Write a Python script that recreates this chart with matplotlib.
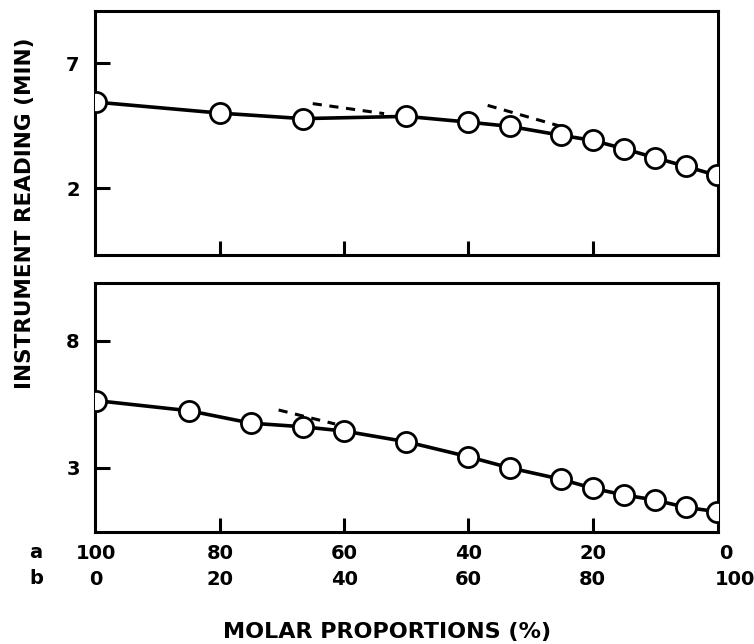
import numpy as np
import matplotlib
matplotlib.use("Agg")
import matplotlib.pyplot as plt

# mole % of component a, and instrument readings (min)
a_top = [100, 80, 66.7, 50, 40, 33.3, 25, 20, 15, 10, 5, 0]
read_top = [5.45, 5.01, 4.79, 4.88, 4.65, 4.48, 4.12, 3.92, 3.59, 3.23, 2.88, 2.52]

a_bottom = [100, 85, 75, 66.7, 60, 50, 40, 33.3, 25, 20, 15, 10, 5, 0]
read_bottom = [5.64, 5.24, 4.75, 4.61, 4.44, 4.02, 3.43, 2.99, 2.54, 2.19, 1.93, 1.73, 1.44, 1.27]

# dashed guide segments (x pairs, y pairs)
dash_top = [([65.1, 53.6], [5.39, 4.99]), ([36.9, 25.1], [5.32, 4.48])]
dash_bottom = [([70.6, 61.5], [5.27, 4.72])]

a_ticks = [100, 80, 60, 40, 20, 0]
b_ticks = [0, 20, 40, 60, 80, 100]
yticks_top = [2, 7]
yticks_bottom = [3, 8]

plt.rcParams['font.family'] = ['DejaVu Sans']
plt.rcParams['font.weight'] = 'bold'

fig = plt.figure(figsize=(7.54, 6.44), dpi=100)
ax1 = fig.add_axes([0.126, 0.604, 0.826, 0.379])
ax2 = fig.add_axes([0.126, 0.174, 0.826, 0.387])


def style_panel(ax, x, y, dashes, yticks, ylim):
    ax.plot(x, y, color="black", lw=2.6, marker="o", ms=14.5,
            mfc="white", mec="black", mew=2.0, zorder=3)
    for dx, dy in dashes:
        ax.plot(dx, dy, color="black", lw=2.2, ls=(0, (3, 2.5)), zorder=2)
    ax.set_xlim(100.2, -0.2)
    ax.set_ylim(*ylim)
    ax.set_xticks([80, 60, 40, 20])
    ax.set_xticklabels([])
    ax.set_yticks(yticks)
    ax.set_yticklabels([str(t) for t in yticks], fontsize=14, fontweight="bold")
    ax.tick_params(direction="in", length=11, width=2.2, pad=11)
    ax.tick_params(axis="x", length=10)
    for s in ax.spines.values():
        s.set_linewidth(2.2)


style_panel(ax1, a_top, read_top, dash_top, yticks_top, (-0.67, 9.1))
style_panel(ax2, a_bottom, read_bottom, dash_bottom, yticks_bottom, (0.47, 10.28))

# two rows of composition labels under the lower panel (b = 100 - a)
xt = ax2.get_xaxis_transform()
for a, b in zip(a_ticks, b_ticks):
    shift = -1.5 if a == 0 else 0
    ax2.text(a + shift, -0.085, str(a), transform=xt, ha="center", va="center",
             fontsize=14, fontweight="bold")
    ax2.text(a + 2 * shift, -0.19, str(b), transform=xt, ha="center",
             va="center", fontsize=14, fontweight="bold")
fig.text(36 / 754, 1 - 553 / 644, "a", ha="center", va="center", fontsize=14, fontweight="bold")
fig.text(36 / 754, 1 - 579 / 644, "b", ha="center", va="center", fontsize=14, fontweight="bold")

fig.text(387 / 754, 1 - 632 / 644, "MOLAR PROPORTIONS (%)", ha="center", va="center",
         fontsize=16, fontweight="bold")
fig.text(25 / 754, 1 - 213 / 644, "INSTRUMENT READING (MIN)", ha="center", va="center",
         rotation=90, fontsize=15.5, fontweight="bold")

fig.savefig("out.png", dpi=100, facecolor="white")
